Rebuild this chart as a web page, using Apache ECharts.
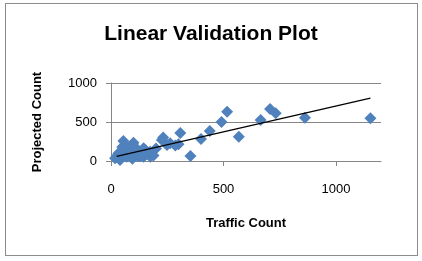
<!DOCTYPE html>
<html>
<head>
<meta charset="utf-8">
<script src="https://cdn.jsdelivr.net/npm/echarts@6/dist/echarts.min.js"></script>
<style>
  html, body { margin: 0; padding: 0; background: #fff; }
  #frame { position: absolute; left: 5px; top: 3px; width: 411px; height: 251px; border: 1px solid #8c8c8c; }
  #chart { width: 422px; height: 261px; }
</style>
</head>
<body>
<div id="frame"></div>
<div id="chart"></div>
<script>
// traffic count (x) vs projected count (y)
const trafficCount = [18, 25, 40, 33, 45, 55, 62, 70, 80, 92, 100, 100, 115, 95, 130, 145, 145, 152, 174, 175,
  189, 200, 226, 232, 249, 263, 286, 300, 308, 353, 400, 439, 491, 516, 568, 665, 707, 732, 862, 1153,
  60, 85, 110, 120, 160, 50, 75];
const projectedCount = [35, 60, 13, 98, 120, 258, 200, 55, 150, 205, 235, 119, 98, 30, 60, 163, 55, 141, 119, 55,
  70, 160, 269, 300, 205, 227, 200, 214, 360, 64, 282, 385, 500, 632, 312, 526, 667, 611, 555, 547,
  100, 80, 170, 60, 90, 180, 120];
// linear trendline end points
const trendX = [25, 1153];
const trendY = [60, 806];
const xTicks = [0, 500, 1000];
const yTicks = [0, 500, 1000];

const points = trafficCount.map((x, i) => [x, projectedCount[i]]);
const trend = trendX.map((x, i) => [x, trendY[i]]);

const chart = echarts.init(document.getElementById('chart'), null, { renderer: 'canvas' });
const font = 'Liberation Sans';
chart.setOption({
  animation: false,
  title: {
    text: 'Linear Validation Plot',
    left: 'center',
    top: 19,
    textStyle: { fontFamily: font, fontSize: 21, fontWeight: 'bold', color: '#000' }
  },
  grid: { left: 111, right: 41, top: 83, bottom: 100 },
  xAxis: {
    type: 'value',
    min: 0,
    max: 1200,
    interval: 500,
    name: 'Traffic Count',
    nameLocation: 'middle',
    nameGap: 56,
    nameTextStyle: { fontFamily: font, fontSize: 13, fontWeight: 'bold', color: '#000' },
    axisLine: { show: true, lineStyle: { color: '#868686' } },
    axisTick: { show: true, inside: false, length: 5, customValues: xTicks, lineStyle: { color: '#868686' } },
    axisLabel: { customValues: xTicks, formatter: v => String(v), margin: 22, fontFamily: font, fontSize: 13, color: '#000' },
    splitLine: { show: false }
  },
  yAxis: {
    type: 'value',
    min: 0,
    max: 1000,
    interval: 500,
    name: 'Projected Count',
    nameLocation: 'middle',
    nameGap: 67,
    nameTextStyle: { fontFamily: font, fontSize: 13, fontWeight: 'bold', color: '#000' },
    axisLine: { show: true, lineStyle: { color: '#868686' } },
    axisTick: { show: true, length: 5, customValues: yTicks, lineStyle: { color: '#868686' } },
    axisLabel: { customValues: yTicks, formatter: v => String(v), margin: 14, fontFamily: font, fontSize: 13, color: '#000' },
    splitLine: { show: true, lineStyle: { color: '#868686' } }
  },
  series: [
    {
      type: 'scatter',
      data: points,
      symbol: 'diamond',
      symbolSize: 12,
      itemStyle: { color: '#4f81bd', opacity: 1 }
    },
    {
      type: 'line',
      data: trend,
      symbol: 'none',
      lineStyle: { color: '#000', width: 1.3 },
      z: 5
    }
  ]
});
</script>
</body>
</html>
